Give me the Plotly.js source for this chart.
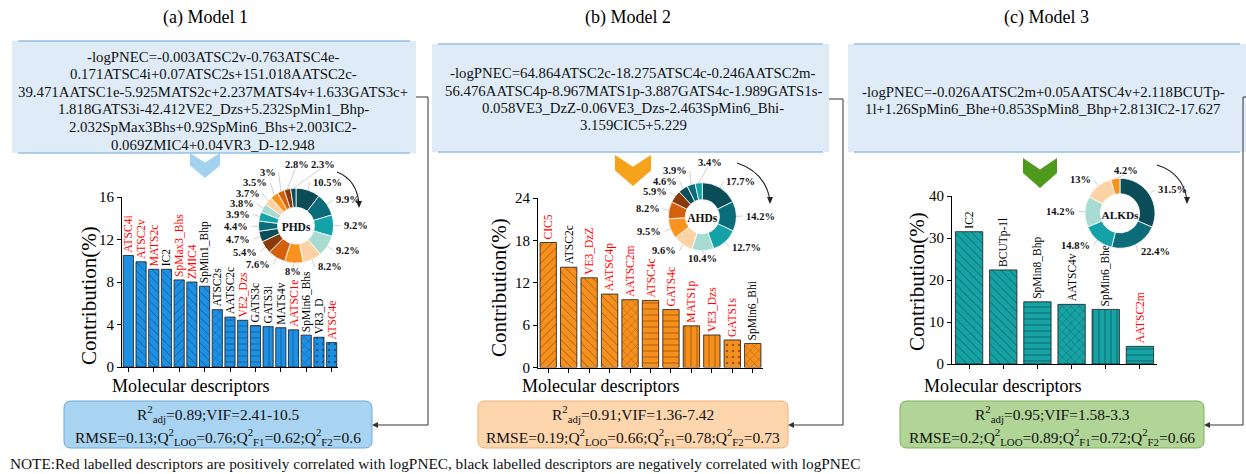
<!DOCTYPE html>
<html><head><meta charset="utf-8">
<script src="https://cdn.plot.ly/plotly-3.0.1.min.js"></script>
<style>html,body{margin:0;padding:0;background:#fff}#chart{width:1246px;height:474px}</style>
</head><body><div id="chart"></div>
<script>
// ---------------- DATA ----------------
const catsA = ['ATSC4i','ATSC2v','MATS2c','IC2','SpMax3_Bhs','ZMIC4','SpMin1_Bhp','ATSC2s','AATSC2c','VE2_Dzs','GATS3c','GATS3i','MATS4v','AATSC1e','SpMin6_Bhs','VR3_D','ATSC4e'];
const valsA = [10.5,9.9,9.2,9.2,8.2,8,7.6,5.4,4.7,4.4,3.9,3.8,3.7,3.5,3,2.8,2.3];
const posA  = [1,1,1,0,1,1,0,0,0,1,0,0,0,1,0,0,1];
const catsB = ['CIC5','ATSC2c','VE3_DzZ','AATSC4p','AATSC2m','ATSC4c','GATS4c','MATS1p','VE3_Dzs','GATS1s','SpMin6_Bhi'];
const valsB = [17.7,14.2,12.7,10.4,9.6,9.5,8.2,5.9,4.6,3.9,3.4];
const posB  = [1,0,1,1,1,1,1,1,1,1,0];
const catsC = ['IC2','BCUTp-1l','SpMin8_Bhp','AATSC4v','SpMin6_Bhe','AATSC2m'];
const valsC = [31.5,22.4,14.8,14.2,13,4.2];
const posC  = [0,0,0,0,0,1];
const yTicksA = [0,4,8,12,16];
const yTicksB = [0,6,12,18,24];
const yTicksC = [0,10,20,30,40];
const panelTitles = ['(a) Model 1','(b) Model 2','(c) Model 3'];
const donutNames = ['PHDs','AHDs','ALKDs'];
const eqA = ['-logPNEC=-0.003ATSC2v-0.763ATSC4e-','0.171ATSC4i+0.07ATSC2s+151.018AATSC2c-','39.471AATSC1e-5.925MATS2c+2.237MATS4v+1.633GATS3c+','1.818GATS3i-42.412VE2_Dzs+5.232SpMin1_Bhp-','2.032SpMax3Bhs+0.92SpMin6_Bhs+2.003IC2-','0.069ZMIC4+0.04VR3_D-12.948'];
const eqB = ['-logPNEC=64.864ATSC2c-18.275ATSC4c-0.246AATSC2m-','56.476AATSC4p-8.967MATS1p-3.887GATS4c-1.989GATS1s-','0.058VE3_DzZ-0.06VE3_Dzs-2.463SpMin6_Bhi-','3.159CIC5+5.229'];
const eqC = ['-logPNEC=-0.026AATSC2m+0.05AATSC4v+2.118BCUTp-','1l+1.26SpMin6_Bhe+0.853SpMin8_Bhp+2.813IC2-17.627'];
const statsA = ['R<sup>2</sup><sub>adj</sub>=0.89;VIF=2.41-10.5','RMSE=0.13;Q<sup>2</sup><sub>LOO</sub>=0.76;Q<sup>2</sup><sub>F1</sub>=0.62;Q<sup>2</sup><sub>F2</sub>=0.6'];
const statsB = ['R<sup>2</sup><sub>adj</sub>=0.91;VIF=1.36-7.42','RMSE=0.19;Q<sup>2</sup><sub>LOO</sub>=0.66;Q<sup>2</sup><sub>F1</sub>=0.78;Q<sup>2</sup><sub>F2</sub>=0.73'];
const statsC = ['R<sup>2</sup><sub>adj</sub>=0.95;VIF=1.58-3.3','RMSE=0.2;Q<sup>2</sup><sub>LOO</sub>=0.89;Q<sup>2</sup><sub>F1</sub>=0.72;Q<sup>2</sup><sub>F2</sub>=0.66'];
const noteText = 'NOTE:Red labelled descriptors are positively correlated with logPNEC, black labelled descriptors are negatively correlated with logPNEC';
const axisTitleY = 'Contribution(%)';
const axisTitleX = 'Molecular descriptors';

// ---------------- STYLE ----------------
const patA = ['', '\\', '\\', '\\', '/', '\\', '\\', 'x', '-', '-', '-', '|', '|', '|', 'x', '.', '.'];
const patB = ['/', '\\', '\\', '\\', 'x', '-', '-', '|', '|', '.', 'x'];
const patC = ['\\', '\\', '-', 'x', '|', '-'];
const donutColors = ['#0a4d59','#0c6d7a','#14a2a8','#a8dcd2','#fdd3a6','#f7931e','#d4600c','#8a3a08'];
const FONT = 'Liberation Serif, Times New Roman, serif';
const LBLSIZE = 10.5;
const W = 1246, H = 474;
const X = p => p / W, Y = p => 1 - p / H;
const P = (pts) => pts.map((q,i)=>(i?'L':'M')+X(q[0])+','+Y(q[1])).join(' ');
const ctx = document.createElement('canvas').getContext('2d');
ctx.font = 'bold ' + LBLSIZE + 'px "Liberation Serif"';
const tw = s => ctx.measureText(s).width;

const panels = [
  {cats:catsA, vals:valsA, pos:posA, pat:patA, ticks:yTicksA, color:'#1e90e3', fg:'#0b5c99',
   xd:[122,338], yd:[367,197], ax:'', pieC:[296,225.7], pieR:37.5, hole:0.49,
   ytitle:[89,296], xtitle:[190,386]},
  {cats:catsB, vals:valsB, pos:posB, pat:patB, ticks:yTicksB, color:'#f5901e', fg:'#a25306',
   xd:[538,763], yd:[367.5,198], ax:'2', pieC:[702.3,216.7], pieR:34, hole:0.5,
   ytitle:[499,288], xtitle:[600,386]},
  {cats:catsC, vals:valsC, pos:posC, pat:patC, ticks:yTicksC, color:'#17a2a4', fg:'#0a5f61',
   xd:[952,1157], yd:[364,196], ax:'3', pieC:[1120,213.3], pieR:35, hole:0.56,
   ytitle:[917,282], xtitle:[1003,386]}
];

const data = [];
const layout = {
  width: W, height: H, margin:{l:0,r:0,t:0,b:0}, paper_bgcolor:'#fff', plot_bgcolor:'rgba(0,0,0,0)',
  showlegend:false, font:{family:FONT, color:'#000'}, shapes:[], annotations:[]
};

// place donut percentage labels from the slice angles (clockwise from 12 o'clock)
function donutLabels(vals, cx, cy, R){
  const tot = vals.reduce((a,b)=>a+b,0);
  let cum = 0; const items = [];
  vals.forEach(v=>{
    const th = (cum + v/2)/tot*2*Math.PI; cum += v;
    const s = Math.sin(th), c = Math.cos(th), rl = R*1.22;
    const grp = Math.abs(s) < 0.25 ? (c > 0 ? 'top' : 'bottom') : (s > 0 ? 'right' : 'left');
    items.push({v, txt: v + '%', x: cx + rl*s, y: cy - rl*c, ex: cx + R*s, ey: cy - R*c, grp});
  });
  const left = items.filter(d=>d.grp==='left').sort((a,b)=>b.y-a.y);
  for(let k=1;k<left.length;k++) if(left[k].y > left[k-1].y-10.5) left[k].y = left[k-1].y-10.5;
  const right = items.filter(d=>d.grp==='right').sort((a,b)=>a.y-b.y);
  for(let k=1;k<right.length;k++) if(right[k].y < right[k-1].y+10.5) right[k].y = right[k-1].y+10.5;
  const leftTop = left.length ? left[left.length-1].y : Infinity;
  const top = items.filter(d=>d.grp==='top').sort((a,b)=>a.x-b.x);
  let minX = -Infinity;
  top.forEach(d=>{ d.y = Math.min(d.y, leftTop-8); d.lx = Math.max(d.x-2, minX); minX = d.lx + tw(d.txt) + 2; });
  items.forEach(d=>{
    if(d.grp==='left'){ d.xa='right'; d.ax=d.x; d.lx2=d.x+1; }
    else if(d.grp==='right'){ d.xa='left'; d.ax=d.x; d.lx2=d.x-1; }
    else if(d.grp==='top'){ d.xa='left'; d.ax=d.lx; d.lx2=d.lx+tw(d.txt)/2; d.ly2=d.y+4; }
    else { d.xa='center'; d.ax=d.x; d.lx2=d.x; d.ly2=d.y-4; }
    layout.shapes.push({type:'path', xref:'paper', yref:'paper', line:{color:'#c4c4c4', width:0.8},
      path: P([[d.ex,d.ey],[d.lx2, d.ly2!==undefined?d.ly2:d.y]])});
    layout.annotations.push({xref:'paper', yref:'paper', x:X(d.ax), y:Y(d.y), text:'<b>'+d.txt+'</b>',
      showarrow:false, xanchor:d.xa, yanchor:'middle', font:{family:FONT, size:LBLSIZE, color:'#111'}});
  });
}

panels.forEach((p, k) => {
  const ya = 'y' + p.ax, xa = 'x' + p.ax;
  data.push({
    type:'bar', x:p.cats, y:p.vals, xaxis:xa, yaxis:ya,
    marker:{color:p.color, line:{color:'#1a1a1a', width:0.8},
      pattern:{shape:p.pat, bgcolor:p.color, fgcolor:p.fg, size:6, solidity:0.14}},
    text:p.cats, textposition:'outside', textangle:-90, constraintext:'none', cliponaxis:false,
    textfont:{family:FONT, size:11.5, color:p.pos.map(v=>v?'#ff0000':'#000000')},
    hoverinfo:'skip'
  });
  layout['xaxis'+p.ax] = {domain:[X(p.xd[0]),X(p.xd[1])], anchor:ya, type:'category',
    showline:true, linecolor:'#000', linewidth:1, ticks:'outside', ticklen:4, tickcolor:'#000',
    showticklabels:false, showgrid:false, zeroline:false, fixedrange:true};
  layout['yaxis'+p.ax] = {domain:[Y(p.yd[0]),Y(p.yd[1])], anchor:xa, range:[0,p.ticks[p.ticks.length-1]],
    tickvals:p.ticks, showline:true, linecolor:'#000', linewidth:1, ticks:'outside', ticklen:4, tickcolor:'#000',
    tickfont:{family:FONT, size:15}, showgrid:false, zeroline:false, fixedrange:true};
  // donut
  data.push({
    type:'pie', values:p.vals, labels:p.cats, sort:false, direction:'clockwise', rotation:0,
    hole:p.hole, domain:{x:[X(p.pieC[0]-p.pieR),X(p.pieC[0]+p.pieR)], y:[Y(p.pieC[1]+p.pieR),Y(p.pieC[1]-p.pieR)]},
    marker:{colors:p.vals.map((v,i)=>donutColors[i%8]), line:{color:'#fff', width:0.8}},
    textinfo:'none',
    title:{text:'<b>'+donutNames[k]+'</b>', position:'middle center', font:{family:FONT, size:11.5, color:'#111'}},
    showlegend:false, hoverinfo:'skip'
  });
  donutLabels(p.vals, p.pieC[0], p.pieC[1], p.pieR);
  // axis titles
  layout.annotations.push({xref:'paper', yref:'paper', x:X(p.ytitle[0]), y:Y(p.ytitle[1]), text:axisTitleY,
    textangle:-90, showarrow:false, font:{family:FONT, size:21}, xanchor:'center', yanchor:'middle'});
  layout.annotations.push({xref:'paper', yref:'paper', x:X(p.xtitle[0]), y:Y(p.xtitle[1]), text:axisTitleX,
    showarrow:false, font:{family:FONT, size:18}, xanchor:'center', yanchor:'middle'});
});

// panel titles
[[205,18],[628,18],[1046,18]].forEach((c,i)=>layout.annotations.push({xref:'paper',yref:'paper',x:X(c[0]),y:Y(c[1]),
  text:panelTitles[i], showarrow:false, font:{family:FONT,size:18}, xanchor:'center', yanchor:'middle'}));

// equation boxes
const eqBoxes = [
  {x0:12,x1:416,y0:41,y1:153,cx:213,ly:56.5,dy:17.6,lines:eqA},
  {x0:432,x1:829,y0:44,y1:152,cx:633,ly:73.3,dy:17.2,lines:eqB},
  {x0:848,x1:1246,y0:44,y1:152,cx:1043,ly:91.7,dy:17.3,lines:eqC}
];
eqBoxes.forEach(b=>{
  layout.shapes.push({type:'rect', xref:'paper', yref:'paper', x0:X(b.x0), x1:X(b.x1), y0:Y(b.y1), y1:Y(b.y0),
    fillcolor:'#dfecf7', line:{width:0}, layer:'below'});
  [b.y0, b.y1].forEach(yy=>layout.shapes.push({type:'line', xref:'paper', yref:'paper', x0:X(b.x0+6), x1:X(b.x1-6),
    y0:Y(yy), y1:Y(yy), line:{color:'#94c0e3', width:1.6}, layer:'below'}));
  b.lines.forEach((t,i)=>layout.annotations.push({xref:'paper',yref:'paper',x:X(b.cx),y:Y(b.ly+i*b.dy),text:t,
    showarrow:false, font:{family:FONT,size:14.8,color:'#111'}, xanchor:'center', yanchor:'middle'}));
});

// chevrons
[[205,153,30,25,'#a3d2f0'],[633,155,36,31,'#f7a21b'],[1040,158,34,30,'#4e9a1c']].forEach(c=>{
  const [cx,y0,w,h,col]=c;
  layout.shapes.push({type:'path', xref:'paper', yref:'paper', fillcolor:col, line:{width:0},
    path:P([[cx-w/2,y0],[cx,y0+h*0.38],[cx+w/2,y0],[cx+w/2,y0+h*0.5],[cx,y0+h],[cx-w/2,y0+h*0.5]])+' Z'});
});

// curved rotation arrows
[[337,172,357,180,359,207],[737,163,765,172,770,203],[1157,165,1183,173,1187,203]].forEach(a=>{
  const [sx,sy,qx,qy,ex,ey]=a;
  layout.shapes.push({type:'path', xref:'paper', yref:'paper', line:{color:'#222',width:1.1},
    path:`M${X(sx)},${Y(sy)} Q${X(qx)},${Y(qy)} ${X(ex)},${Y(ey-3)}`});
  layout.shapes.push({type:'path', xref:'paper', yref:'paper', fillcolor:'#222', line:{width:0},
    path:P([[ex-3,ey-6],[ex+3,ey-6],[ex,ey+1]])+' Z'});
});

// stat boxes
function rr(x0,y0,x1,y1,r){
  return `M${X(x0+r)},${Y(y0)} L${X(x1-r)},${Y(y0)} Q${X(x1)},${Y(y0)} ${X(x1)},${Y(y0+r)} L${X(x1)},${Y(y1-r)} Q${X(x1)},${Y(y1)} ${X(x1-r)},${Y(y1)} L${X(x0+r)},${Y(y1)} Q${X(x0)},${Y(y1)} ${X(x0)},${Y(y1-r)} L${X(x0)},${Y(y0+r)} Q${X(x0)},${Y(y0)} ${X(x0+r)},${Y(y0)} Z`;
}
const statBoxes = [
  {x0:64,x1:372,fill:'#a9d4f1',line:'#6ea9dc',lines:statsA},
  {x0:478,x1:788,fill:'#fdd6ae',line:'#f0ad74',lines:statsB},
  {x0:900,x1:1204,fill:'#b0d597',line:'#7fb35a',lines:statsC}
];
statBoxes.forEach(b=>{
  layout.shapes.push({type:'path', xref:'paper', yref:'paper', path:rr(b.x0,401,b.x1,448,7), fillcolor:b.fill, line:{color:b.line,width:1}});
  b.lines.forEach((t,i)=>layout.annotations.push({xref:'paper',yref:'paper',x:X((b.x0+b.x1)/2),y:Y(414+i*23),text:t,
    showarrow:false, font:{family:FONT,size:15.5,color:'#111'}, xanchor:'center', yanchor:'middle'}));
});

// connector lines with arrowheads
[[[416,97],[428,97],[428,425],[378,425]],[[829,99],[843,99],[843,425],[794,425]],[[1246,97],[1243,97],[1243,425],[1210,425]]].forEach(pts=>{
  layout.shapes.push({type:'path', xref:'paper', yref:'paper', line:{color:'#333',width:1}, path:P(pts)});
  const e=pts[pts.length-1];
  layout.shapes.push({type:'path', xref:'paper', yref:'paper', fillcolor:'#333', line:{width:0},
    path:P([[e[0]-6,e[1]],[e[0],e[1]-3],[e[0],e[1]+3]])+' Z'});
});

// note
layout.annotations.push({xref:'paper',yref:'paper',x:X(8),y:Y(463),text:noteText,showarrow:false,
  font:{family:FONT,size:15.3,color:'#111'},xanchor:'left',yanchor:'middle'});

Plotly.newPlot('chart', data, layout, {staticPlot:true, displayModeBar:false});
</script></body></html>
